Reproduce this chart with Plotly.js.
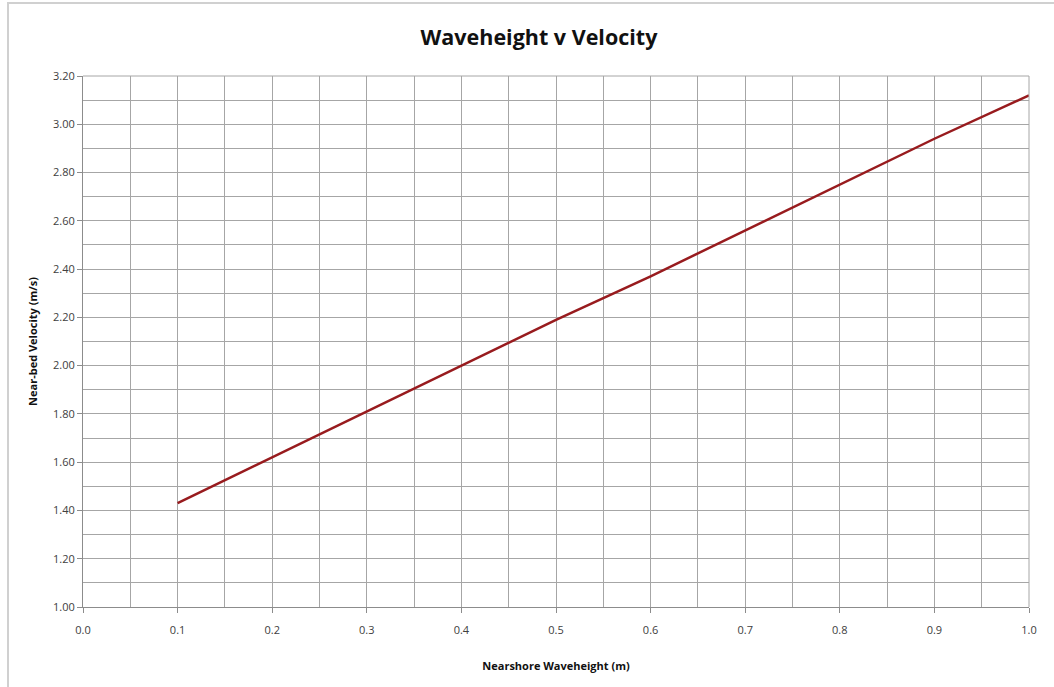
<!DOCTYPE html>
<html>
<head>
<meta charset="utf-8">
<script src="https://cdn.plot.ly/plotly-3.0.1.min.js"></script>
<style>
html,body{margin:0;padding:0;background:#fff;}
#wrap{position:relative;width:1054px;height:687px;overflow:hidden;}
#chart{position:absolute;left:0;top:0;width:1054px;height:687px;}
#frame{position:absolute;left:7px;top:2px;width:1100px;height:760px;border:2px solid #d0d0d0;pointer-events:none;box-sizing:border-box;}
</style>
</head>
<body>
<div id="wrap"><div id="chart"></div><div id="frame"></div></div>
<script>
var waveheight = [0.1, 0.2, 0.3, 0.4, 0.5, 0.6, 0.7, 0.8, 0.9, 1.0];
var velocity = [1.43, 1.62, 1.81, 2.00, 2.19, 2.37, 2.56, 2.75, 2.94, 3.12];

var trace = {
  x: waveheight, y: velocity, type: 'scatter', mode: 'lines',
  line: {color: '#981b1e', width: 2.5}, hoverinfo: 'x+y'
};

var tickFont = {family: 'Open Sans, sans-serif', size: 11, color: '#404040'};
var layout = {
  width: 1054, height: 687,
  margin: {l: 83, r: 25, t: 76, b: 80},
  paper_bgcolor: '#ffffff', plot_bgcolor: '#ffffff',
  showlegend: false,
  title: {text: '<b>Waveheight v Velocity</b>', x: 539/1054, xref: 'container', xanchor: 'center',
          y: 1 - 37/687, yref: 'container', yanchor: 'middle',
          font: {family: 'Open Sans, sans-serif', size: 21.5, color: '#111111'}},
  xaxis: {
    range: [0, 1.0], dtick: 0.1, tick0: 0, tickformat: '.1f',
    showgrid: true, gridcolor: '#a6a6a6', gridwidth: 1,
    minor: {dtick: 0.05, showgrid: true, gridcolor: '#a6a6a6', gridwidth: 1, ticks: ''},
    showline: true, linecolor: '#8c8c8c', linewidth: 1,
    ticks: 'outside', ticklen: 5, tickcolor: '#8c8c8c', ticklabelstandoff: 8,
    tickfont: tickFont, zeroline: false, fixedrange: true,
    title: {text: '<b>Nearshore Waveheight (m)</b>', standoff: 26,
            font: {family: 'Open Sans, sans-serif', size: 11, color: '#111111'}}
  },
  yaxis: {
    range: [1.0, 3.2], dtick: 0.2, tick0: 1.0, tickformat: '.2f',
    showgrid: true, gridcolor: '#a6a6a6', gridwidth: 1,
    minor: {dtick: 0.1, showgrid: true, gridcolor: '#a6a6a6', gridwidth: 1, ticks: ''},
    showline: true, linecolor: '#8c8c8c', linewidth: 1,
    ticks: 'outside', ticklen: 5, tickcolor: '#8c8c8c',
    tickfont: tickFont, zeroline: false, fixedrange: true,
    title: {text: '<b>Near-bed Velocity (m/s)</b>', standoff: 13,
            font: {family: 'Open Sans, sans-serif', size: 11, color: '#111111'}}
  },
  shapes: [
    {type: 'line', xref: 'paper', yref: 'paper', x0: 1, x1: 1, y0: 0, y1: 1, line: {color: '#a6a6a6', width: 1}},
    {type: 'line', xref: 'paper', yref: 'paper', x0: 0, x1: 1, y0: 1, y1: 1, line: {color: '#a6a6a6', width: 1}}
  ]
};
Plotly.newPlot('chart', [trace], layout, {displayModeBar: false, staticPlot: true});
</script>
</body>
</html>
